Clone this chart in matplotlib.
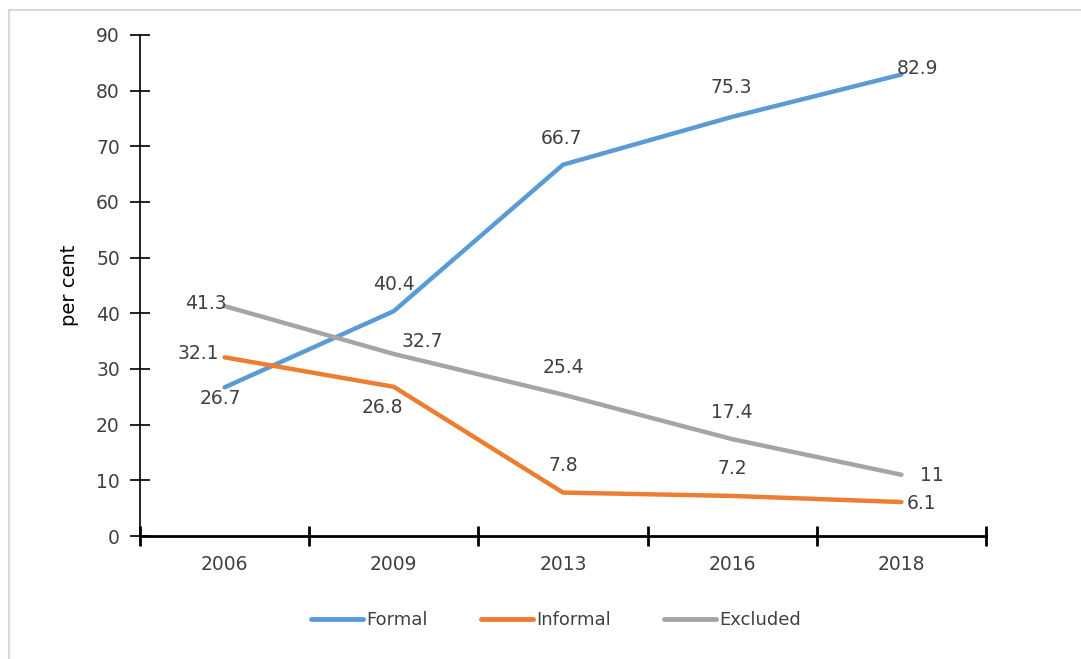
import matplotlib
matplotlib.use("Agg")
import matplotlib.pyplot as plt
from matplotlib.lines import Line2D

plt.rcParams['font.family'] = ['DejaVu Sans']

years = ["2006", "2009", "2013", "2016", "2018"]
formal = [26.7, 40.4, 66.7, 75.3, 82.9]
informal = [32.1, 26.8, 7.8, 7.2, 6.1]
excluded = [41.3, 32.7, 25.4, 17.4, 11]

series = [
    ("Formal", formal, "#5B9BD5",
     [(-4, -11), (0, 27), (-2, 26), (-1, 29), (16, 6)]),
    ("Informal", informal, "#ED7D31",
     [(-26, 4), (-11, -21), (0, 27), (0, 27), (20, -1)]),
    ("Excluded", excluded, "#A5A5A5",
     [(-19, 3), (29, 12), (0, 27), (0, 27), (30, -1)]),
]

W, H, DPI = 1081, 659, 100
fig = plt.figure(figsize=(W / DPI, H / DPI), dpi=DPI)

# axes area in pixel coordinates
left, right, top, bottom = 140, 986, 35, 536
ax = fig.add_axes([left / W, 1 - bottom / H, (right - left) / W, (bottom - top) / H])

x = list(range(len(years)))
text_col = "#404040"
fs = 13.5
for name, vals, col, offs in series:
    ax.plot(x, vals, color=col, lw=3.2, solid_capstyle="round",
            solid_joinstyle="round", label=name, zorder=3)
    for xi, v, (dx, dy) in zip(x, vals, offs):
        ax.annotate(f"{v:g}", (xi, v), xytext=(dx, dy), textcoords="offset pixels",
                    ha="center", va="center", fontsize=fs, color=text_col, zorder=4)

ax.set_xlim(-0.5, len(years) - 0.5)
ax.set_ylim(0, 90)
ax.set_yticks(range(0, 91, 10))
ax.set_xticks(x)
ax.set_xticklabels(years)
ax.set_xticks([i - 0.5 for i in range(len(years) + 1)], minor=True)
ax.tick_params(axis="x", which="major", length=0, pad=14, labelsize=fs, labelcolor=text_col)
ax.tick_params(axis="x", which="minor", direction="inout", length=14, width=2, color="black")
ax.tick_params(axis="y", direction="inout", length=15, width=1.2, pad=7,
               labelsize=fs, labelcolor=text_col, color="black")

for s in ("top", "right"):
    ax.spines[s].set_visible(False)
ax.spines["left"].set_linewidth(1.2)
ax.spines["bottom"].set_linewidth(2)
ax.spines["left"].set_color("black")
ax.spines["bottom"].set_color("black")

ax.set_ylabel("per cent", fontsize=14, color="black", labelpad=12)

handles = [Line2D([0], [0], color=c, lw=3.5, solid_capstyle="round") for _, _, c, _ in series]
labels = [n for n, _, _, _ in series]
fig.legend(handles, labels, loc="center", bbox_to_anchor=(556 / W, 1 - 620 / H),
           ncol=3, frameon=False, fontsize=13, handlelength=2.9, handletextpad=0.2,
           columnspacing=2.9, labelcolor=text_col)

# light frame along the top and left edges
fig.add_artist(Line2D([9 / W, 9 / W], [0, 1 - 10 / H], transform=fig.transFigure,
                      color="#D9D9D9", lw=1.5))
fig.add_artist(Line2D([9 / W, 1], [1 - 10 / H, 1 - 10 / H], transform=fig.transFigure,
                      color="#D9D9D9", lw=1.5))

fig.savefig("out.png", dpi=DPI)
